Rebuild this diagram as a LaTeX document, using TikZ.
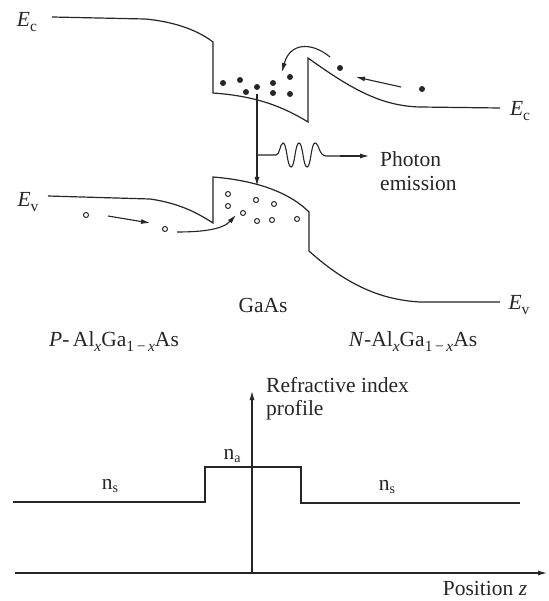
\documentclass[tikz,border=0pt]{standalone}
\usepackage{fontspec}
\setmainfont{Liberation Serif}
\usetikzlibrary{arrows.meta}
\newcommand{\lsub}[1]{\raisebox{-0.5ex}{\fontsize{15.5}{15.5}\selectfont #1}}
\newcommand{\nsub}[1]{\raisebox{-0.4ex}{\fontsize{14}{14}\selectfont #1}}
\begin{document}
\begin{tikzpicture}[x=1pt,y=-1pt,
  band/.style={line width=1.2pt, draw=black!85},
  arr/.style={-{Latex[length=9pt,width=5pt]}, line width=1.1pt, draw=black!85},
  lbl/.style={font=\fontsize{21.5}{23.5}\selectfont, inner sep=0pt, text=black!85},
  elec/.style={fill=black!85},
  hole/.style={draw=black!85, line width=1pt, fill=white}]
\useasboundingbox[fill=white] (0,0) rectangle (548,601);

% ---- conduction band
\draw[band] (52,17) -- (145,19) .. controls (178,22) and (200,32) .. (213,42)
  -- (213,93) .. controls (255,96) and (282,106) .. (308,122)
  -- (308,58) .. controls (350,88) and (380,106) .. (420,107) -- (500,108);
% ---- valence band
\draw[band] (48,196) -- (150,199) .. controls (178,203) and (196,212) .. (213,223)
  -- (213,177) .. controls (262,181) and (292,195) .. (309,212)
  -- (309,251) .. controls (350,288) and (385,300) .. (420,302) -- (500,302);

% ---- band labels
\node[lbl] (ecl) at (27,22) {\textit{E}\lsub{c}};
\node[lbl] (ecr) at (520,111) {\textit{E}\lsub{c}};
\node[lbl] (evl) at (28,202) {\textit{E}\lsub{v}};
\node[lbl] (evr) at (519,305) {\textit{E}\lsub{v}};

% ---- electrons
\foreach \p in {(223,83),(240,80),(246,92),(257,87),(273,83),(273,93),(290,77),(290,94),(340,68),(422,89)}
  \fill[elec] \p circle (3pt);
% ---- holes
\foreach \p in {(228,194),(228,206),(256,200),(274,204),(243,213),(257,221),(272,220),(297,219),(86,215),(165,229)}
  \draw[hole] \p circle (2.5pt);

% ---- carrier arrows
\coordinate (ea1) at (401,87);
\coordinate (ea2) at (356,77);
\draw[arr] (ea1) -- (ea2);
\coordinate (ec1) at (330,57);
\coordinate (ec2) at (282,72);
\draw[arr] (ec1) .. controls (312,42) and (290,42) .. (ec2);
\coordinate (ha1) at (108,216);
\coordinate (ha2) at (150,223);
\draw[arr] (ha1) -- (ha2);
\coordinate (hc1) at (177,232);
\coordinate (hc2) at (236,215);
\draw[arr] (hc1) .. controls (200,232) and (222,230) .. (hc2);

% ---- recombination and photon
\coordinate (rtop) at (257,94);
\coordinate (rbot) at (257,186);
\draw[arr] (rtop) -- (rbot);
\coordinate (pb) at (257,155);
\coordinate (pe) at (369,156);
\draw[line width=1.1pt, draw=black!85] (pb) -- (276,155)
  .. controls (280,155) and (280,143) .. (283,143)
  .. controls (287,143) and (287,167) .. (291,167)
  .. controls (295,167) and (295,143) .. (299,143)
  .. controls (303,143) and (303,167) .. (307,167)
  .. controls (311,167) and (311,143) .. (315,143)
  .. controls (319,143) and (319,156) .. (326,156) -- (340,156);
\draw[arr] (340,156) -- (pe);
\node[lbl, anchor=west, align=left] (ph) at (380,171) {Photon\\emission};

% ---- region labels
\node[lbl] (gaas) at (263,305) {GaAs};
\node[lbl] (pl) at (114,342) {\textit{P}-\,Al\lsub{\textit{x}}Ga\lsub{1\,−\,\textit{x}}As};
\node[lbl] (nl) at (413,342) {\textit{N}-Al\lsub{\textit{x}}Ga\lsub{1\,−\,\textit{x}}As};

% ---- refractive index profile
\coordinate (o) at (252,573);
\coordinate (yt) at (252,391);
\coordinate (xl) at (15,573);
\coordinate (xr) at (547,573);
\draw[line width=1.1pt, draw=black!85] (xl) -- (o);
\draw[arr] (o) -- (xr);
\draw[arr] (o) -- (yt);
\draw[band] (13,502) -- (205,502) -- (205,467) -- (301,467) -- (301,503) -- (520,503);
\node[lbl, anchor=north west, align=left] (ri) at (266,377) {Refractive index\\profile};
\node[lbl] (ns1) at (110,486) {n\nsub{s}};
\node[lbl] (na) at (232,456) {n\nsub{a}};
\node[lbl] (ns2) at (387,487) {n\nsub{s}};
\node[lbl] (pz) at (485,588) {Position \textit{z}};
\end{tikzpicture}
\end{document}
